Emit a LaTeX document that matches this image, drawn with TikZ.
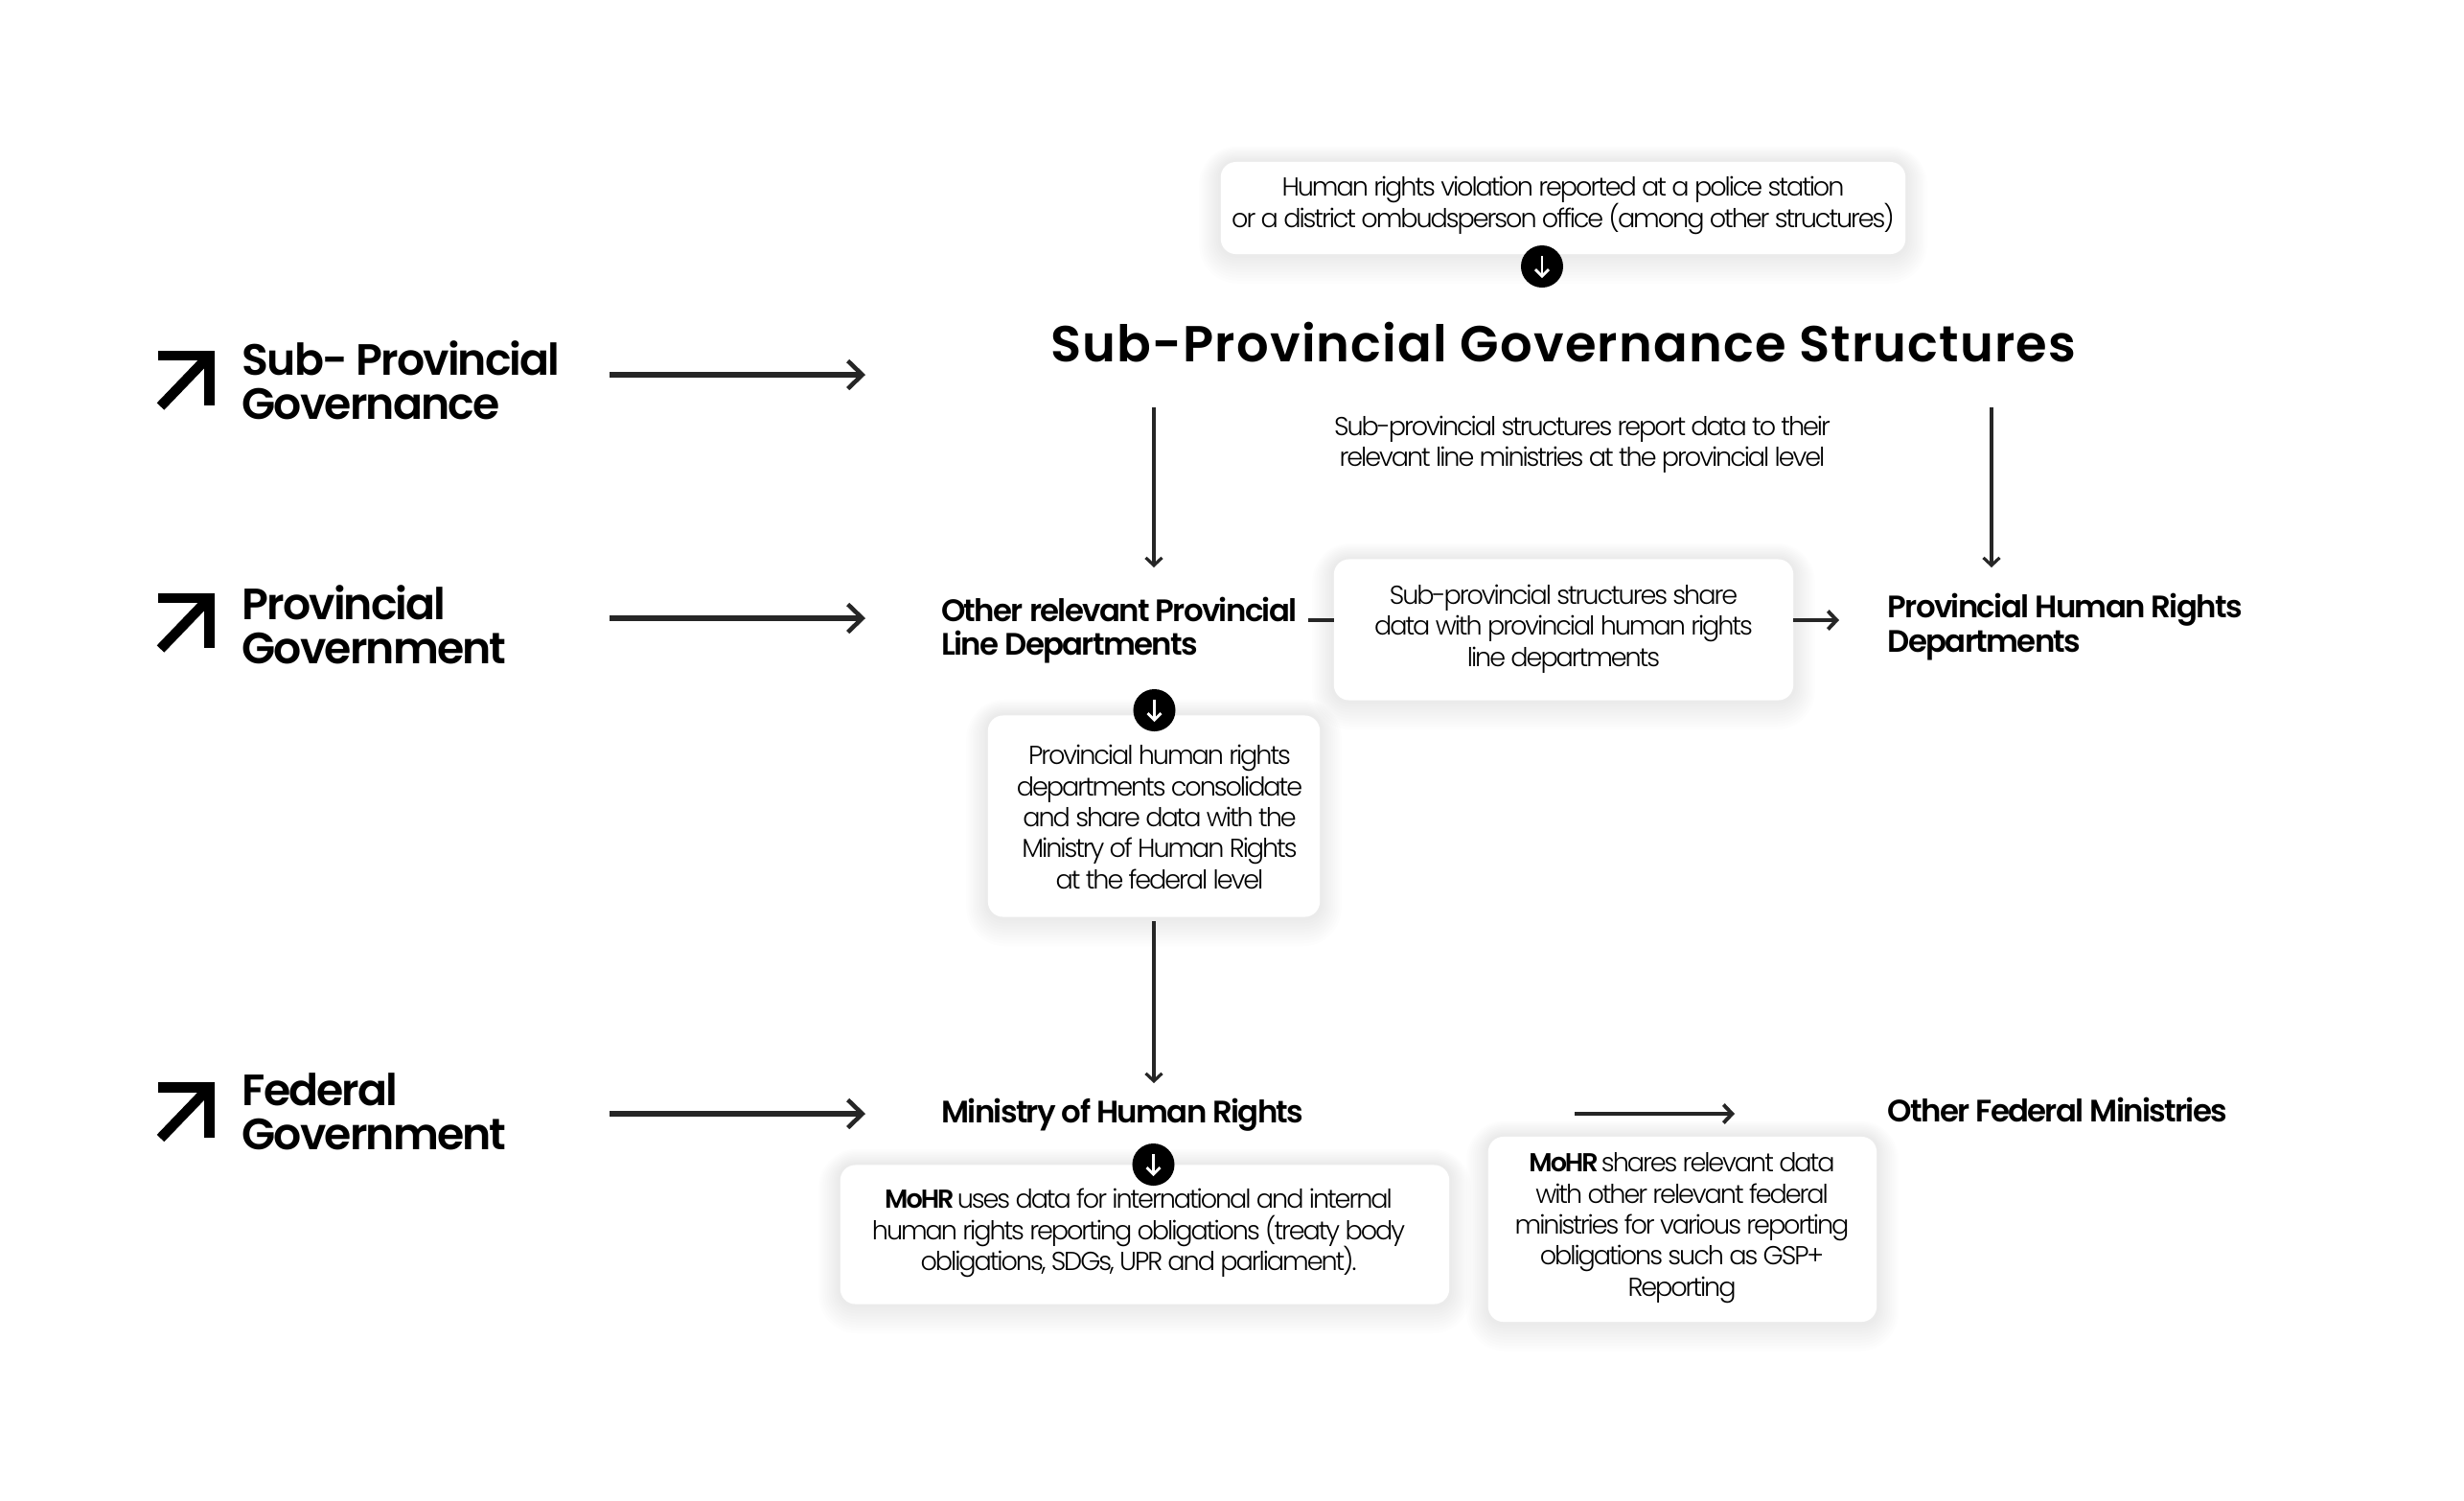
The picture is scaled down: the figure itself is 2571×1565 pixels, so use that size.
\documentclass[tikz,border=0pt]{standalone}
\usepackage{fontspec}
\setmainfont{Poppins Light}[LetterSpace=-7.6,BoldFont={Poppins SemiBold}]
\newfontfamily\headfont{Poppins SemiBold}[LetterSpace=-4.1]
\newfontfamily\unitfont{Poppins SemiBold}[LetterSpace=-5.1]
\newfontfamily\titlefont{Poppins SemiBold}[LetterSpace=2.2]
\usetikzlibrary{arrows.meta,backgrounds}
\lineskiplimit=-10pt
\normallineskiplimit=-10pt

\tikzset{
  infobox/.style={fill=white,rounded corners=4.5pt,inner sep=0pt},
  infotext/.style={align=center,inner sep=0pt,font=\fontsize{7.7pt}{9.2pt}\selectfont},
  levelhead/.style={anchor=west,align=left,inner sep=0pt,font=\headfont\fontsize{13pt}{13.1pt}\selectfont},
  unithead/.style={anchor=west,align=left,inner sep=0pt,font=\unitfont\fontsize{9.2pt}{10pt}\selectfont},
  levelarrow/.style={line width=1.6pt,color=black!85,-{Straight Barb[length=1.5mm,width=2.9mm,line width=1.3pt]}},
  flowarrow/.style={line width=0.9pt,color=black!85,-{Straight Barb[length=0.8mm,width=1.7mm]}},
  sidearrow/.style={line width=1.1pt,color=black!85,-{Straight Barb[length=0.9mm,width=1.9mm]}},
  dotnode/.style={circle,fill=black,minimum size=0.44cm,inner sep=0pt},
  levelicon/.pic={
    \draw[line width=3pt] (0,0)-- (54,0)-- (54,52);
    \draw[line width=3pt] (54,0)-- (3,53);
  }
}

\begin{document}
\begin{tikzpicture}[line join=miter,x=0.01cm,y=-0.01cm]
\useasboundingbox (0,0) rectangle (2571,1565);

% boxes
\node[infobox,minimum width=7.14cm,minimum height=0.96cm] (reportbox) at (1631,217) {};
\node[infobox,minimum width=4.79cm,minimum height=1.47cm] (sharebox) at (1631.5,657) {};
\node[infobox,minimum width=3.46cm,minimum height=2.10cm] (consolbox) at (1204,851.5) {};
\node[infobox,minimum width=6.35cm,minimum height=1.45cm] (usesbox) at (1194.5,1288) {};
\node[infobox,minimum width=4.05cm,minimum height=1.93cm] (fedbox) at (1755.5,1282.5) {};

% soft shadows
\begin{scope}[on background layer]
\foreach \b in {reportbox,sharebox,consolbox,usesbox,fedbox}{
  \foreach \r in {1,...,10}{
    \fill[black,opacity=0.006,rounded corners={4.5pt+\r*0.7pt}]
      ([xshift=-\r*0.022cm,yshift=\r*0.016cm]\b.north west) rectangle
      ([xshift=\r*0.022cm,yshift=-\r*0.03cm]\b.south east);
  }
}
\end{scope}

% left column
\pic at (164.5,371) {levelicon};
\pic at (164.5,624) {levelicon};
\pic at (164.5,1134.5) {levelicon};
\node[levelhead] (subhead) at (252,397) {Sub- Provincial\\Governance};
\node[levelhead] (provhead) at (252,651.5) {Provincial\\Government};
\node[levelhead] (fedhead) at (252,1159.5) {Federal\\Government};

% titles and labels
\node[inner sep=0pt,font=\titlefont\fontsize{15pt}{18pt}\selectfont] (subtitle) at (1631.5,357) {Sub-Provincial Governance Structures};
\node[infotext] (reporttxt) at (1631,214.5) {Human rights violation reported at a police station\\or a district ombudsperson office (among other structures)};
\node[infotext] (linetxt) at (1651,463.5) {Sub-provincial structures report data to their\\relevant line ministries at the provincial level};
\node[unithead] (otherprov) at (981.5,657.5) {Other relevant Provincial\\Line Departments};
\node[unithead] (provhr) at (1969,654) {Provincial Human Rights\\Departments};
\node[unithead] (mohr) at (981.5,1163) {Ministry of Human Rights};
\node[unithead] (otherfed) at (1969,1158) {Other Federal Ministries};
\node[infotext] (sharetxt) at (1631.5,656) {Sub-provincial structures share\\data with provincial human rights\\line departments};
\node[infotext] (consoltxt) at (1210,852.5) {Provincial human rights\\departments consolidate\\and share data with the\\Ministry of Human Rights\\at the federal level};
\node[infotext] (usestxt) at (1188,1286.5) {\textbf{MoHR} uses data for international and internal\\human rights reporting obligations (treaty body\\obligations, SDGs, UPR and parliament).};
\node[infotext] (fedtxt) at (1755,1281) {\textbf{MoHR} shares relevant data\\with other relevant federal\\ministries for various reporting\\obligations such as GSP+\\Reporting};

% ends of the connectors
\coordinate (sl) at (636,391);
\coordinate (sr) at (903,391);
\coordinate (pl) at (636,645);
\coordinate (pr) at (903,645);
\coordinate (fl) at (636,1162);
\coordinate (fr) at (903,1162);
\coordinate (d1) at (1204,425);
\coordinate (d2) at (1204,592);
\coordinate (d3) at (2078,425);
\coordinate (d4) at (2078,592);
\coordinate (d5) at (1204,961);
\coordinate (d6) at (1204,1130);
\coordinate (h1) at (1365,647);
\coordinate (h2) at (1392,647);
\coordinate (h3) at (1871,647);
\coordinate (h4) at (1919,647);
\coordinate (h5) at (1643,1162);
\coordinate (h6) at (1810,1162);

\draw[levelarrow] (sl)-- (sr);
\draw[levelarrow] (pl)-- (pr);
\draw[levelarrow] (fl)-- (fr);
\draw[flowarrow] (d1)-- (d2);
\draw[flowarrow] (d3)-- (d4);
\draw[flowarrow] (d5)-- (d6);
\draw[line width=1.1pt,color=black!85] (h1)-- (h2);
\draw[sidearrow] (h3)-- (h4);
\draw[sidearrow] (h5)-- (h6);

% round markers
\foreach \n/\px/\py in {dota/1609/278,dotb/1204.5/741,dotc/1203.5/1215}{
  \node[dotnode] (\n) at (\px,\py) {};
  \draw[white,line width=0.8pt,-{Straight Barb[length=0.7mm,width=1.4mm]}] ([yshift=0.11cm]\n.center)-- ([yshift=-0.12cm]\n.center);
}
\end{tikzpicture}
\end{document}
